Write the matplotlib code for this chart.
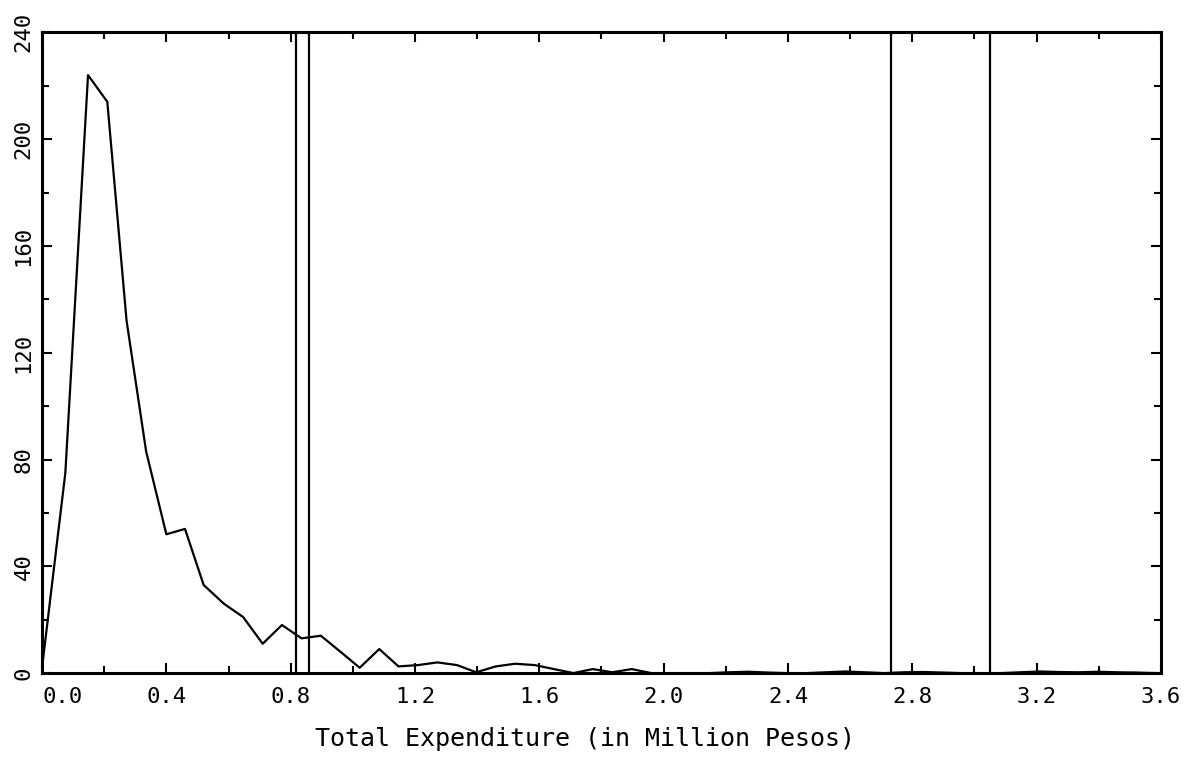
import matplotlib.pyplot as plt
from matplotlib.ticker import MultipleLocator

# expenditure (million pesos) vs. count
expenditure = [0.00, 0.075, 0.148, 0.21, 0.272, 0.335, 0.40, 0.46, 0.52, 0.585,
               0.647, 0.71, 0.772, 0.835, 0.897, 0.96, 1.022, 1.085, 1.147, 1.21,
               1.272, 1.335, 1.397, 1.46, 1.522, 1.585, 1.647, 1.71, 1.772, 1.835,
               1.897, 1.96, 2.02, 2.085, 2.147, 2.21, 2.272, 2.335, 2.397, 2.46,
               2.522, 2.585, 2.647, 2.71, 2.772, 2.835, 2.897, 2.96, 3.02, 3.085,
               3.147, 3.21, 3.272, 3.335, 3.397, 3.46, 3.522, 3.585]
counts = [2, 75, 224, 214, 132, 83, 52, 54, 33, 26,
          21, 11, 18, 13, 14, 8, 2, 9, 2.5, 3,
          4, 3, 0.3, 2.5, 3.5, 3, 1.5, 0, 1.5, 0.3,
          1.5, 0, 0, 0, 0, 0.3, 0.5, 0.2, 0, 0,
          0.3, 0.6, 0.3, 0, 0.3, 0.4, 0.2, 0, 0, 0,
          0.3, 0.6, 0.4, 0.3, 0.5, 0.3, 0.2, 0]

# vertical reference lines
cutoffs = [0.818, 0.860, 2.73, 3.05]

x_ticks = [0.0, 0.4, 0.8, 1.2, 1.6, 2.0, 2.4, 2.8, 3.2, 3.6]
x_ticklabels = ['0.0', '0.4', '0.8', '1.2', '1.6', '2.0', '2.4', '2.8', '3.2', '3.6']

plt.rcParams['font.family'] = ['DejaVu Sans Mono']

fig = plt.figure(figsize=(11.84, 7.71), dpi=100)
ax = fig.add_axes([0.0355, 0.127, 0.945, 0.831])

ax.plot(expenditure, counts, color='black', lw=1.6)
for c in cutoffs:
    ax.axvline(c, color='black', lw=1.6)

ax.set_xticks(x_ticks)
ax.set_xticklabels(x_ticklabels)
ax.xaxis.set_minor_locator(MultipleLocator(0.2))
ax.yaxis.set_major_locator(MultipleLocator(40))
ax.yaxis.set_minor_locator(MultipleLocator(20))
ax.set_xlim(0, 3.6)
ax.set_ylim(0, 240)

ax.tick_params(which='both', direction='in', top=True, right=True, width=1.5)
ax.tick_params(which='major', length=7, labelsize=16)
ax.tick_params(which='minor', length=5)
ax.tick_params(axis='x', pad=10)
ax.tick_params(axis='y', pad=6)
for lab in ax.get_yticklabels():
    lab.set_rotation(90)
    lab.set_va('center')
# first x label sits just right of the y axis
ax.get_xticklabels()[0].set_ha('left')

for s in ax.spines.values():
    s.set_linewidth(2.2)

ax.set_xlabel('Total Expenditure (in Million Pesos)', fontsize=18)
ax.xaxis.set_label_coords(0.485, -0.084)

fig.savefig('out.png', dpi=100)
